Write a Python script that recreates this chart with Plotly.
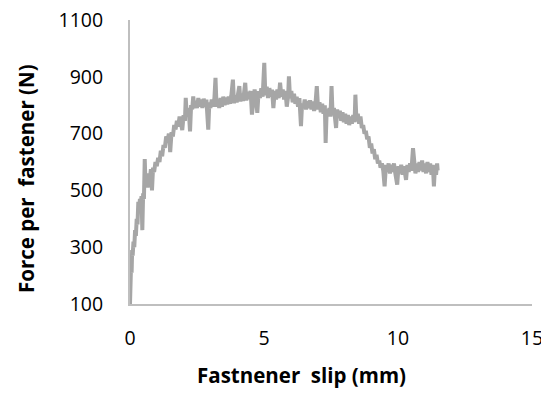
import plotly.graph_objects as go

slip_mm = [
    0.00, 0.01, 0.02, 0.04, 0.06, 0.08, 0.10, 0.13, 0.16, 0.19, 0.22, 0.25, 0.28, 0.31, 0.34, 0.37,
    0.40, 0.43, 0.46, 0.49, 0.52, 0.55, 0.58, 0.62, 0.66, 0.70, 0.74, 0.78, 0.82, 0.86, 0.90, 0.95,
    1.00, 1.05, 1.10, 1.15, 1.20, 1.25, 1.30, 1.35, 1.40, 1.45, 1.50, 1.55, 1.60, 1.65, 1.70, 1.75,
    1.80, 1.85, 1.90, 1.95, 2.00, 2.05, 2.08, 2.12, 2.16, 2.20, 2.24, 2.28, 2.32, 2.36, 2.40, 2.45,
    2.50, 2.55, 2.60, 2.65, 2.70, 2.75, 2.80, 2.85, 2.92, 2.96, 3.00, 3.05, 3.10, 3.15, 3.19, 3.23,
    3.28, 3.33, 3.38, 3.43, 3.48, 3.53, 3.58, 3.63, 3.68, 3.73, 3.78, 3.84, 3.88, 3.93, 3.98, 4.03,
    4.08, 4.12, 4.17, 4.22, 4.27, 4.30, 4.34, 4.39, 4.44, 4.50, 4.55, 4.60, 4.65, 4.70, 4.75, 4.80,
    4.85, 4.90, 4.95, 5.01, 5.05, 5.10, 5.15, 5.20, 5.25, 5.30, 5.35, 5.40, 5.45, 5.50, 5.55, 5.60,
    5.65, 5.70, 5.75, 5.80, 5.85, 5.90, 5.93, 5.97, 6.02, 6.07, 6.12, 6.17, 6.22, 6.27, 6.32, 6.38,
    6.42, 6.47, 6.52, 6.57, 6.62, 6.67, 6.72, 6.77, 6.82, 6.87, 6.92, 6.97, 7.02, 7.07, 7.12, 7.17,
    7.22, 7.27, 7.30, 7.34, 7.39, 7.44, 7.48, 7.52, 7.56, 7.61, 7.66, 7.69, 7.73, 7.78, 7.83, 7.88,
    7.93, 7.98, 8.03, 8.08, 8.13, 8.18, 8.23, 8.28, 8.33, 8.38, 8.41, 8.45, 8.50, 8.55, 8.60, 8.65,
    8.70, 8.75, 8.80, 8.85, 8.90, 8.95, 9.00, 9.05, 9.10, 9.15, 9.20, 9.25, 9.30, 9.35, 9.40, 9.45,
    9.50, 9.55, 9.60, 9.65, 9.70, 9.75, 9.80, 9.85, 9.90, 9.97, 10.02, 10.07, 10.12, 10.17, 10.22, 10.30,
    10.35, 10.40, 10.45, 10.50, 10.56, 10.60, 10.65, 10.70, 10.75, 10.80, 10.85, 10.90, 10.95, 11.00, 11.05, 11.10,
    11.15, 11.20, 11.25, 11.30, 11.34, 11.38, 11.42, 11.46, 11.48,
]

force_n = [
    100, 180, 150, 240, 210, 290, 270, 320, 300, 360, 340, 400, 380, 460, 430, 470,
    450, 480, 360, 490, 470, 610, 520, 540, 510, 560, 540, 575, 500, 580, 565, 600,
    585, 615, 600, 640, 620, 660, 650, 690, 675, 700, 635, 705, 690, 730, 715, 745,
    725, 760, 740, 712, 765, 745, 826, 760, 790, 770, 708, 800, 785, 831, 790, 815,
    790, 825, 795, 820, 790, 823, 795, 820, 714, 810, 790, 820, 795, 825, 896, 795,
    820, 790, 825, 795, 830, 800, 827, 803, 830, 805, 833, 890, 807, 835, 810, 840,
    867, 813, 841, 815, 845, 879, 817, 847, 821, 850, 767, 830, 855, 825, 773, 850,
    825, 860, 830, 949, 835, 865, 825, 860, 830, 855, 790, 850, 820, 855, 825, 879,
    830, 855, 820, 850, 795, 830, 902, 825, 850, 810, 840, 805, 830, 795, 825, 726,
    805, 790, 820, 785, 815, 790, 817, 785, 813, 780, 805, 867, 785, 810, 775, 805,
    770, 800, 667, 785, 765, 790, 760, 867, 765, 790, 755, 720, 785, 755, 780, 745,
    775, 740, 770, 735, 765, 730, 760, 735, 765, 740, 837, 745, 770, 735, 760, 720,
    730, 700, 710, 680, 690, 650, 665, 630, 645, 610, 625, 595, 605, 580, 595, 570,
    514, 590, 565, 595, 560, 590, 565, 595, 560, 520, 585, 560, 590, 555, 585, 537,
    590, 565, 595, 570, 649, 585, 560, 595, 565, 600, 570, 605, 565, 595, 560, 600,
    565, 595, 555, 590, 514, 585, 555, 595, 570,
]

x_ticks = [0, 5, 10, 15]
y_ticks = [100, 300, 500, 700, 900, 1100]

FONT = "Open Sans"

fig = go.Figure()
fig.add_trace(go.Scatter(
    x=slip_mm, y=force_n, mode="lines",
    line=dict(color="#a6a6a6", width=4),
    showlegend=False, hoverinfo="skip",
))

# page body has an 8px default margin; compensate so the plot lands where the reference has it
OFF = 8
W, H = 549, 396
L, T = 130 - OFF, 20 - OFF
R = W - (532 - OFF)
B = H - (304 - OFF)
pw, ph = W - L - R, H - T - B

def px_x(sx):
    return (sx - OFF - L) / pw

def px_y(sy):
    return (H - B - (sy - OFF)) / ph

fig.update_layout(
    width=W, height=H,
    margin=dict(l=L, r=R, t=T, b=B, pad=0, autoexpand=False),
    paper_bgcolor="white", plot_bgcolor="white",
    font=dict(family=FONT, size=19.5, color="#000000"),
    xaxis=dict(
        range=[0, 15], tickvals=x_ticks, ticktext=[str(v) for v in x_ticks],
        showgrid=False, zeroline=False, showline=True, linecolor="#bfbfbf", linewidth=2,
        ticks="outside", ticklen=16, tickcolor="rgba(0,0,0,0)", automargin=False,
        ticklabeloverflow="allow",
        tickfont=dict(family=FONT, size=19.5, color="#000000"),
    ),
    yaxis=dict(
        range=[100, 1100], tickvals=y_ticks, ticktext=[str(v) for v in y_ticks],
        showgrid=False, zeroline=False, showline=True, linecolor="#bfbfbf", linewidth=2,
        ticks="outside", ticklen=21, tickcolor="rgba(0,0,0,0)", automargin=False,
        ticklabeloverflow="allow",
        tickfont=dict(family=FONT, size=19.5, color="#000000"),
    ),
    annotations=[
        dict(text="<b>Fastnener  slip (mm)</b>", xref="paper", yref="paper",
             x=px_x(301), y=px_y(375), showarrow=False,
             xanchor="center", yanchor="middle",
             font=dict(family=FONT, size=20.5, color="#000000")),
        dict(text="<b>Force per  fastener (N)</b>", xref="paper", yref="paper",
             x=px_x(26), y=px_y(179), showarrow=False, textangle=-90,
             xanchor="center", yanchor="middle",
             font=dict(family=FONT, size=20.5, color="#000000")),
    ],
)

fig.write_html("out.html")
